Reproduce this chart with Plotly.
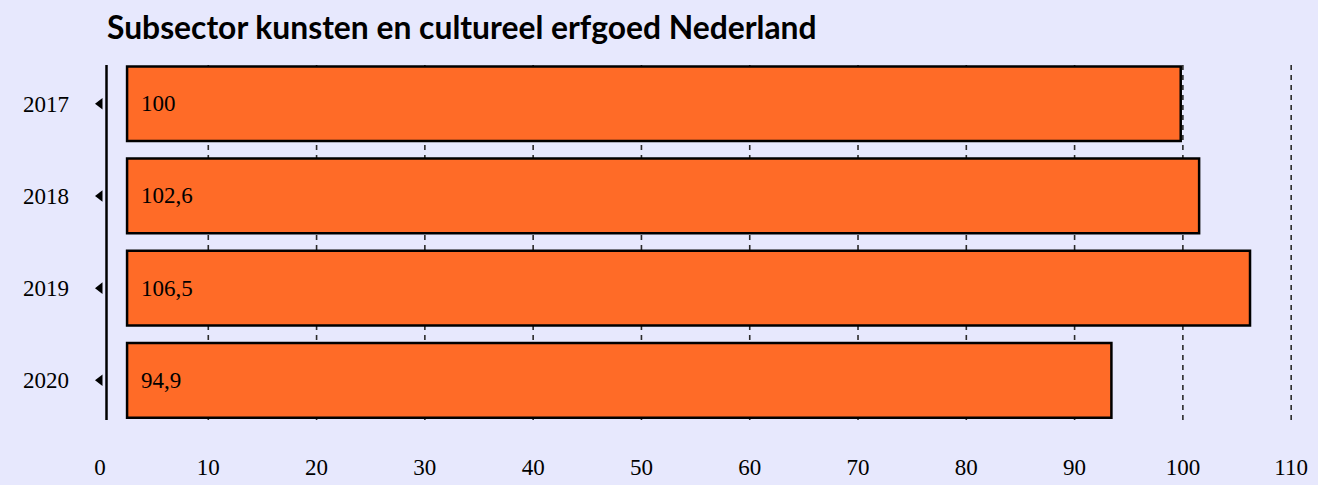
import plotly.graph_objects as go

# Data
years = ["2017", "2018", "2019", "2020"]
index_labels = ["100", "102,6", "106,5", "94,9"]
bar_start = 2.5
bar_end = [99.8, 101.5, 106.2, 93.4]   # bar ends as drawn in the reference
x_ticks = [0, 10, 20, 30, 40, 50, 60, 70, 80, 90, 100, 110]

BG = "#E7E8FD"
ORANGE = "#FF6B27"
SERIF = "Liberation Serif, DejaVu Serif, serif"

fig = go.Figure()

fig.add_trace(go.Bar(
    orientation="h",
    y=years,
    x=[e - bar_start for e in bar_end],
    base=bar_start,
    marker=dict(color=ORANGE, line=dict(color="black", width=2.5)),
    hoverinfo="skip",
    showlegend=False,
))

# small tick triangles on the y axis
fig.add_trace(go.Scatter(
    x=[x_ticks[0]] * len(years),
    y=years,
    mode="markers",
    marker=dict(symbol="triangle-left", size=10, color="black"),
    cliponaxis=False,
    hoverinfo="skip",
    showlegend=False,
))

# value labels inside the bars (category index positions)
for i, t in enumerate(index_labels):
    fig.add_annotation(
        x=bar_start, y=i, xref="x", yref="y", text=t, showarrow=False,
        xanchor="left", yanchor="middle", xshift=12,
        font=dict(family=SERIF, size=23, color="black"),
    )

# dashed vertical gridlines (not at 0)
for v in x_ticks[1:]:
    fig.add_shape(
        type="line", x0=v, x1=v, y0=0, y1=1, xref="x", yref="paper",
        line=dict(color="#2a2a2a", width=1.6, dash="5px,5px"), layer="below",
    )

# y axis line
fig.add_shape(
    type="line", x0=0.6, x1=0.6, y0=0, y1=1, xref="x", yref="paper",
    line=dict(color="black", width=2.5), layer="above",
)

fig.update_layout(
    width=1318, height=485,
    margin=dict(l=100, r=16, t=65, b=65, autoexpand=False),
    paper_bgcolor=BG, plot_bgcolor=BG,
    bargap=0.19,
    title=dict(
        text="<b>Subsector kunsten en cultureel erfgoed Nederland</b>",
        x=107 / 1318, xanchor="left", xref="container",
        y=1 - 28 / 485, yanchor="middle", yref="container",
        font=dict(family="Lato, Open Sans, sans-serif", size=31.8, color="black"),
    ),
    xaxis=dict(
        range=[0, 111], tickvals=x_ticks, ticktext=[str(v) for v in x_ticks],
        showgrid=False, zeroline=False, showline=False, ticks="",
        ticklabelstandoff=31, automargin=False,
        tickfont=dict(family=SERIF, size=23, color="black"),
    ),
    yaxis=dict(
        type="category", range=[3.43, -0.42],
        showgrid=False, zeroline=False, showline=False, ticks="",
        ticklabelstandoff=30, automargin=False,
        tickfont=dict(family=SERIF, size=23, color="black"),
    ),
)

fig.write_html(
    "out.html",
    config={"displayModeBar": False},
    post_script="document.body.style.margin='0';document.body.style.background='" + BG + "';",
)
